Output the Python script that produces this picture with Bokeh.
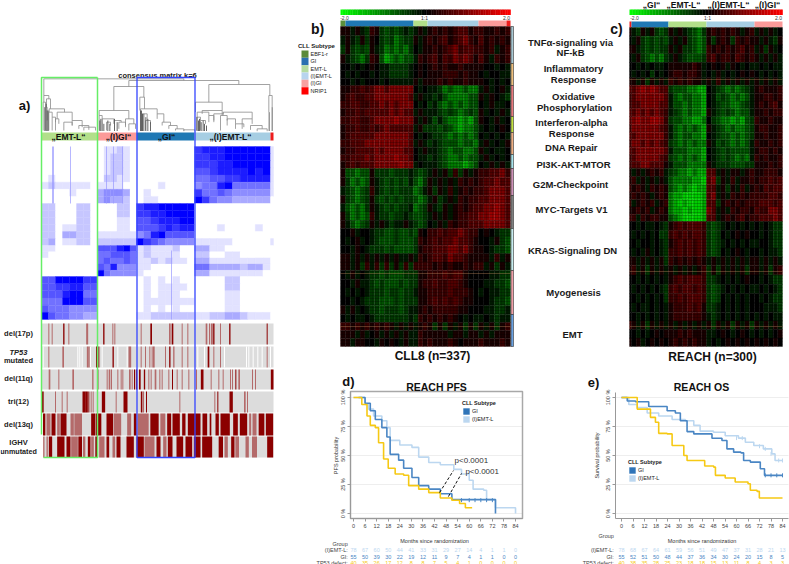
from bokeh.plotting import figure
from bokeh.layouts import row, column
from bokeh.models import (Range1d, FixedTicker, ColumnDataSource, Legend, LegendItem)
from bokeh.core.properties import value
from bokeh.transform import linear_cmap
from bokeh.embed import file_html
from bokeh.resources import INLINE
import math

FONT = value("Liberation Sans")
FN = "Liberation Sans"

# ---------- heatmap b (CLL8): estimated mean expression per gene-set row / sample group
# groups per row: EBF1-r(1) GI(14) EMT-L(3) (I)EMT-L(10) (I)GI+NRIP1(6)
b_sets = {
 "TNF": ["1 1a1ab21bcbcbab a1a 1212123312 211212",
         "a 1ab1b10bcbdcbb 1a1 2123123421 312121",
         "b 1bcbc1abdcdcdb 0a1 1212342332 212a12",
         "1 abcdb21cedcdcc a21 2313243431 31a212"],
 "INF": ["0 0a0a010aabbbba 010 1212112111 100a0a",
         "0 a0a00a0aabbbba 010 1112221211 0a00aa",
         "0 0a0a000a0aaaaa 1a1 1121211211 10a0a0"],
 "OX":  ["1 12232344344444 0a0 aabdcddcdd a1a01a",
         "1 23223344444443 a1a abacddddcc 1a10ab",
         "2 23322334343444 0a0 bacdcdcdcc 0a1aa0",
         "1 22323333343433 a1a aabcbcdcbc 1a0a1a"],
 "IFN": ["2 23322344445444 1a1 acacddedec 10a1a0",
         "1 22322323433333 a1b bbcbcdeddc a0a010"],
 "DNA": ["1 23333344444443 0a0 abbcdcdcdc 0a0a0a",
         "2 23334444444443 a1a babcccdccd a1a0a1",
         "1 22333343444433 0a1 aabcdccddc 1a0aa0"],
 "PI3K":["2 23334344445443 0aa babcddcdcc a1a0a0",
         "1 23233344444544 a0a aabcdddedc 0a1a1a"],
 "G2M": ["1 ccdcc1bbbcbbba bcb a1a1b2b1a1 223342",
         "1 bdcdc1abcbcbca cdb 1a1a1a2121 233433",
         "a bcdcb2abcbcbbb dca 1b1a2a1212 234443"],
 "MYC": ["1 bcdcb1bcbcbcbb cdc a1ba1a2122 334443",
         "a cdcdb1abcbcbba dcb 1ab1a12123 344543",
         "1 bdcdc2abbcbbab ccb a1a1a12233 445543",
         "1 acdcb1a1abaa1a bcb 0a1a212233 344443"],
 "KRAS":["0 01a00abbccbccb c10 2232334322 010abb",
         "0 a01a0abcccbccc b21 2323343321 00a1bc",
         "0 0a10abbbcbcccc b12 2333443421 10abbc",
         "1 1a1a1a1a1a1aa1 a21 2332433211 11a2a1",
         "1 1a1b2a2b2b1b2b 222 2121211212 2a1b1a"],
 "MYO": ["0 a1a0abbcbcccbb b11 2223233100 00aabb",
         "0 0a1aabcbcccbcb b12 2322332100 0aabbc",
         "0 a0a0abbbcbbcbb a11 2222322210 a0aabb",
         "0 0a0abbbcccbcbb b11 2323232110 00abbc",
         "1 a1a0abbcbbbcba a12 1222221100 0aabba"],
 "EMT": ["0 a0aa0abbbbbbba b21 2121210a0a a0abaa",
         "2 2121212121a1a1 a12 1b1b1a1b1b 1a1b12",
         "1 11a1a01a1a1a1a a21 1111a11a11 a1a111",
         "1 1a1100a1010a1a a21 2111210111 211121"],
}
# ---------- heatmap c (REACH): NRIP1(1) GI(8) EMT-L(8) (I)EMT-L(10) (I)GI(6)
c_sets = {
 "TNF": ["1 ab1a1bcb 1a1abcdb 1212121a12 a1a1a0",
         "0 a1bcbcbc a1a1bcdc 1b121b2121 1a1ab1",
         "1 1abcbcbb 1a1bbcdc 2121212312 a1b1a0",
         "0 a1bcdcdb a1abcccb 2312213212 1a1a1a"],
 "INF": ["0 0a0a0aa0 1111121a 0101a10a0a a0a0aa",
         "0 a0a0b0a0 1221221a 0a1a0a0101 0a0a0a",
         "1 1a1b1a1a 2121211a 1a2a1a1a1a 1a1a1a"],
 "OX":  ["3 34545433 bcccddee 0abcdcdcba 121112",
         "2 34444443 acdccdde 0acbcdcdca 112212",
         "2 33444433 accdcdde 0abccddcba 121231",
         "3 34343432 abcdcdde 1abcbcdcca 112122"],
 "IFN": ["3 45445542 bccddeed 0bcddedecb 211211",
         "2 44444432 acdcdcde 1abcdcddcb 122112"],
 "DNA": ["3 34444442 acdccdde 0abccdcdcb 112112",
         "2 44343432 bcdcdcdd 1acbcdcdca 211212",
         "3 34444443 acccddde 0abcbcccca 122121"],
 "PI3K":["2 34444432 bcdcdcde 0abcbcdcda 212112",
         "2 33443331 acccdddd 1abbbcccbb 111212"],
 "G2M": ["1 a1a1212a bcddedee 33a1a11a12 112221",
         "1 2a1a1a1a cddddeef 34b1a2a112 122323",
         "2 121a2121 cdedefee 33a1b1a2a1 213233"],
 "MYC": ["1 2121a121 deeffffe 34a1a21212 222332",
         "2 a1212a12 defefffe 33b1212122 233323",
         "1 1212a121 deefeffe 43a1a21221 322443",
         "2 2a212211 cdeffffe 33a1212312 233343"],
 "KRAS":["0 0a0aa0ab 12323332 bcba0a0a0a 0a0abb",
         "0 a0a0a0bb 23232332 bcb0a01010 0a0abb",
         "0 0a00a0ab 12323232 bcba0a0a0a a00abb",
         "0 a0a1a0ab 22323232 bcb0a010a0 0a0aab",
         "1 1a1a1a1b 21212121 a1a1a1a1a1 1a1a1a"],
 "MYO": ["1 2a1b1a1a 1a1a1a12 b1b1a1a1b1 1a1b12",
         "0 0a0a0a0a 12323332 bba0a0a010 0a0abb",
         "0 a0a0a0ab 23233232 bcba0a0a0a a0a0ab",
         "0 0a0a0a0b 22323332 bcb0a0a0a0 0a0abb",
         "0 a0aa0a0a 12223231 bba0a0a0a0 00aaab"],
 "EMT": ["0 0a0a0a0a 12222221 aba0a0a0a0 a0a0aa",
         "2 1a1b1a1a 1a1a1a1a 1b1a1b1a1b 1a1a1a",
         "0 0a0a0101 11212111 aa010a010a 0a0a01",
         "1 01a01010 12121211 a0a0101010 101010"],
}
levels = {"0":0,"1":.2,"2":.42,"3":.65,"4":.95,"5":1.2,"6":1.4,
          "a":-.2,"b":-.42,"c":-.65,"d":-.95,"e":-1.3,"f":-1.6}

# ---------- consensus matrix (0 = no co-clustering, 9 = always)
cons_rows = [
 "00000000 000000 00000000 0000000000 0",
 "00000000 011210 00000000 7888999999 1",
 "00000000 012210 00000000 7788999999 1",
 "00000000 012210 00000000 7778899999 1",
 "00000000 012210 00000000 6678888989 1",
 "01000000 022110 00000000 5566778888 1",
 "12111110 111100 00010000 4558955555 1",
 "00001000 344430 01000000 7556544444 1",
 "00000000 343320 01100000 9754433333 0",
 "22000220 000220 78899999 0000000000 0",
 "22000220 000220 77889999 0000000000 0",
 "22000220 000110 66788899 0000000000 0",
 "22011220 000110 66678788 0001000010 0",
 "22033220 111111 45896666 0000000000 0",
 "23011220 222222 97654444 1111100000 1",
 "11000000 666896 12111200 3311000000 0",
 "10000000 556665 12111100 2200110000 0",
 "00000000 565565 11212110 3311111111 0",
 "00000000 658444 11000000 5533332331 0",
 "00000000 954444 10000000 3311111110 0",
 "66999977 000000 01010100 0000220000 0",
 "66778866 000000 01011110 0000220000 0",
 "66689955 000000 01011100 0000110000 0",
 "55599966 000000 01111111 0000110000 0",
 "65554444 000000 01010100 0000110000 0",
 "96554433 000000 11222222 1122332111 0",
]
cons_stripe_x = [52,53,70,106,113,122,171]
cons_stripe_top = [146,146,146,146,146,146,250]
cons_stripe_bot = [203,203,203,203,203,203,319]

# ---------- sample tracks: (position, width, status) with status 2 = present, 1 = subclonal
del17p = [(145,3,1),(155,3,1),(190,4,2),(205,3,1),(260,6,1),(310,4,2),(337,3,1),(343,3,1),(422,3,1),(452,5,2),
          (508,5,1),(516,5,2),(545,3,1),(562,3,1),(618,5,1),(627,3,1),(634,6,1),(640,4,2),(660,3,1),(688,4,2),(800,3,2)]
tp53 = [(145,3,1),(188,5,1),(262,6,1),(268,3,1),(288,3,2),(295,3,2),(338,4,2),(388,8,1),(422,3,1),(435,3,1),(448,3,1),
        (455,3,1),(460,5,1),(495,3,1),(508,4,2),(520,4,1),(545,3,1),(562,3,1),(624,5,2),(640,3,1),(660,3,1),(800,3,1)]
tp53_missing = [128,232,238,245,270,305,352,380,592,612,672,738,745,758,772,785,810]
del11q = [(147,5,1),(175,3,1),(218,5,1),(277,4,1),(292,3,2),(320,3,1),(327,5,1),(333,3,1),(352,3,1),(362,3,1),(367,3,1),
          (388,5,1),(395,3,1),(402,3,2),(408,4,2),(418,5,2),(432,4,2),(445,3,1),(452,3,1),(465,5,1),(478,3,1),(485,3,1),
          (505,3,1),(516,3,2),(530,3,1),(545,3,1),(565,3,1),(588,3,1),(605,8,2),(632,3,1),(655,3,1),(668,3,1),(690,3,1),
          (696,3,1),(706,3,2),(716,5,1),(756,3,1),(765,3,1),(815,8,2)]
tri12 = [(127,5,2),(165,3,1),(185,3,1),(200,3,1),(250,8,2),(258,8,2),(265,3,2),(272,3,1),(278,3,1),(309,10,2),(347,3,1),
         (375,12,2),(423,4,2),(428,5,1),(438,3,2),(538,3,1),(643,3,1),(652,3,2),(692,10,2),(733,5,1),(741,3,1)]
del13q = [(131,7,2),(144,12,1),(159,12,2),(174,8,1),(189,18,2),(215,10,1),(233,23,1),(278,12,2),(294,17,2),(328,20,2),
          (351,22,1),(386,12,1),(404,8,2),(428,33,1),(462,25,2),(487,15,1),(506,12,2),(527,22,2),(550,10,2),(581,38,2),
          (613,14,2),(630,5,2),(650,10,2),(674,28,2),(705,14,2),(729,22,2),(749,6,1),(762,12,1),(783,17,2),(807,22,2)]
ighv = [(130,4,1),(140,4,1),(150,10,2),(181,22,2),(204,12,2),(222,20,1),(239,11,2),(251,7,1),(266,8,2),(276,8,1),(287,5,2),
        (304,16,1),(322,8,2),(340,8,1),(354,12,2),(389,22,2),(419,22,2),(447,30,1),(474,12,2),(493,10,1),(509,14,2),
        (538,20,2),(565,20,2),(590,20,2),(620,30,2),(661,13,2),(677,10,1),(697,10,2),(710,11,1),(740,10,1),(762,15,1),(809,18,2)]

# ---------- dendrogram merges: left leaf x, right leaf x, merge height, left/right child heights
merges = [
 (130,550,55,105,60),(385,715,60,78,72),(340,430,78,150,110),(625,808,72,125,105),(585,665,125,155,150),(805,815,105,155,140),
 (130,145,105,125,115),(128,135,125,210,140),(138,150,115,140,145),(135,140,140,210,180),(146,192,145,155,155),(145,155,155,210,170),
 (155,165,170,210,185),(170,215,155,175,180),(165,175,175,210,190),(190,215,185,210,195),(215,245,180,195,200),(235,265,195,205,208),
 (250,285,200,210,210),
 (296,385,150,165,175),(296,305,165,210,185),(305,340,175,185,180),(318,330,185,210,195),(340,362,180,190,185),(355,375,185,205,195),
 (375,400,175,200,190),(385,405,190,210,205),
 (418,432,110,150,145),(420,470,145,160,160),(425,440,160,210,180),(435,450,180,210,190),(470,490,160,175,185),(485,510,185,195,195),
 (505,530,195,205,205),(525,550,205,210,210),(550,583,208,212,212),
 (590,625,155,170,165),(588,600,170,210,180),(600,615,180,210,190),(605,665,150,160,165),(625,640,165,185,180),(640,668,160,185,155),
 (668,755,155,165,175),(660,680,165,210,180),(680,705,175,195,190),(705,730,190,205,200),(725,755,175,205,190),(750,785,195,208,205),
 (770,800,205,212,212),
]
dark_x = [133,137,140,143,298,301,305,310,322,328,342,350,420,423,426,430,436,442,450,590,594,597,602,608,612,618,806,815]
dark_top = [140,130,150,150,180,175,185,190,180,190,175,185,150,150,160,160,170,175,185,170,180,175,185,180,190,195,155,140]

# ---------- survival curves
pfs_months_l = [0,1.7,6,7.8,10.4,14.7,17.3,19,24,30.3,33.8,39,45,52,56,60,62,67.5,69,73.6,84,84]
pfs_l = [100,100,94,90,84,80,74,63,59,57,48.6,44,42,38,34,28.6,21,20,12,5,5,0]
pfs_months_g = [2.6,6,8.7,11.3,14.7,17.3,19,23.4,26,30.3,33.8,39,45,51,51,73.6,73.6]
pfs_g = [100,95,88.6,81,74,66,51,46,39,31,24,21,17,16,12,11.5,0]
pfs_months_y = [0,2.6,4.3,7,8.7,11.3,13,15.6,18,21.6,26,28.6,33.8,39,45,51,55,58,61.5]
pfs_y = [100,100,94,84,76,74,61,47,39,34,33,24,21,18,13.4,11.4,8.6,5,5]
pfs_censor = [56,60,63,66,69,72]
os_months_l = [0,3.8,8.2,13.4,19.4,26.4,33.3,37.7,41,48,54.1,61,64.6,69,74,78.4,80.1,84]
os_l = [100,94,91.4,86.6,84,81,80,76,71,70,67,65,61.4,58.6,55.7,51.4,45.7,45.7]
os_months_g = [0,3,7.3,14.2,22.9,23.8,28.1,30.7,34.2,37.7,44.6,47.2,52.4,55,58.5,62.3,63.7,67.2,72.4,74.6,84]
os_g = [100,97,96.3,92.3,92.3,88.6,86.6,80,70.6,68.6,68.6,64.9,62.9,55.7,52.9,52.3,45.7,44.3,38.6,32.9,32.9]
os_months_y = [0,6.9,8.2,12.5,15.1,17.7,19.4,23.8,26.4,31.2,32.5,34.2,42.9,43.4,48.1,49,54.1,59.3,66,67.2,70.7,71.9,84]
os_y = [100,100,90,90,82.9,78.6,69.1,68.6,58.6,58.6,50,45.7,45.7,40.9,40,32.9,30.6,27.1,25.7,20,19.1,13.4,13.4]
os_censor_l = [60,63,72,75,78,82,84]
os_censor_ly = [65,65,58,55.7,51.4,45.7,45.7]
os_censor_g = [75,78,81,84]

months = list(range(0,85,6))
pfs_risk_l = [78,67,60,50,44,41,33,31,29,27,14,4,1,1,0]
pfs_risk_g = [55,50,39,30,22,19,12,11,9,7,4,1,1,0,0]
pfs_risk_y = [40,35,26,17,12,8,8,7,5,4,1,0,0,0,0]
os_risk_l = [78,68,67,64,61,59,56,51,49,47,37,31,28,21,13]
os_risk_g = [55,52,51,50,48,44,37,36,34,30,24,20,15,8,5]
os_risk_y = [40,38,35,28,25,23,18,18,15,13,11,8,4,3,3]

subtypes = ["EBF1-r","GI","EMT-L","(I)EMT-L","(I)GI","NRIP1"]
terms = [("TNFα-signaling via",570,42),("NF-kB",570,52),("Inflammatory",573,68),("Response",573,79),("Oxidative",573,96),
         ("Phosphorylation",574,107),("Interferon-alpha",571,122),("Response",571,133),("DNA Repair",571,147),
         ("PI3K-AKT-MTOR",573,164),("G2M-Checkpoint",570,184),("MYC-Targets V1",571,209),("KRAS-Signaling DN",572,250),
         ("Myogenesis",573,292),("EMT",572,334)]

# ---------- colours / helpers
ST = {"EBF1-r":"#5c8f3c","GI":"#1f78b4","EMT-L":"#b2df8a","(I)EMT-L":"#a6cee3","(I)GI":"#fb9a99","NRIP1":"#ee1c1c"}
C_L, C_G, C_Y = "#bcd7f0", "#4a86c4", "#f6c914"
RG = []
for i in range(-50,51):
    v = abs(i)/50*255
    RG.append("#%02x%02x00" % (int(v) if i>0 else 0, int(v) if i<0 else 0))
BL = ["#%02x%02xff" % (int(255*(1-(i/9)**1.0)), int(255*(1-(i/9)**1.0))) for i in range(10)]

def blank(x0,x1,y0,y1):
    p = figure(width=x1-x0, height=y1-y0, x_range=Range1d(x0,x1), y_range=Range1d(y1,y0), x_axis_type=None, y_axis_type=None,
               toolbar_location=None, output_backend="svg", min_border=0, outline_line_color=None)
    p.grid.visible = False
    p.min_border_left=p.min_border_right=p.min_border_top=p.min_border_bottom=0
    return p

def txt(p, items, size, bold=True, color="#111111", align="center", style=None):
    p.text(x=[i[1] for i in items], y=[i[2] for i in items], text=[i[0] for i in items], text_font=FONT,
           text_font_size=size, text_font_style=style or ("bold" if bold else "normal"), text_align=align,
           text_baseline="middle", text_color=color)

def box(p,l,r,t,b,c,**k):
    return p.quad(left=[l],right=[r],top=[t],bottom=[b],fill_color=c,line_color=None,**k)

def heat(p, sets, col_edges, y_edges, streaks):
    L,R,T,B,V = [],[],[],[],[]
    for (name,rows) in sets.items():
        y0,y1 = y_edges[name]
        h = (y1-y0)/len(rows)
        for i,rw in enumerate(rows):
            s = rw.replace(" ","")
            assert len(s)==len(col_edges)-1, (name,i,len(s))
            for j,ch in enumerate(s):
                L.append(col_edges[j]);R.append(col_edges[j+1]);T.append(y0+i*h);B.append(y0+(i+1)*h);V.append(levels[ch])
    src = ColumnDataSource(dict(l=L,r=R,t=T,b=B,v=V))
    cm = linear_cmap("v", RG, -2, 2)
    p.quad(left="l",right="r",top="t",bottom="b",source=src,fill_color=cm,line_color=cm,line_width=0.3)
    x0,x1=col_edges[0],col_edges[-1]
    ys=[y0_ for y0_ in range(y_edges["TNF"][0]+2,346,3)]
    p.segment(x0=x0,x1=x1,y0=ys,y1=ys,line_color="#000000",line_alpha=0.22,line_width=1)
    xs=[x for x in range(int(x0)+2,int(x1),3)]
    p.segment(x0=xs,x1=xs,y0=y_edges["TNF"][0],y1=346,line_color="#000000",line_alpha=0.15,line_width=1)
    p.segment(x0=x0,x1=x1,y0=streaks,y1=streaks,line_color="#a87850",line_alpha=0.55,line_width=0.8)

def edges(groups):
    e=[]
    for a,b,n in groups:
        e += [a+(b-a)*k/n for k in range(n)]
    e.append(groups[-1][1])
    return e

def keybar(p,x0,x1,y0,y1):
    n=len(RG)
    w=(x1-x0)/n
    src=ColumnDataSource(dict(l=[x0+i*w for i in range(n)],r=[x0+(i+1)*w+.3 for i in range(n)],c=RG))
    p.quad(left="l",right="r",top=y0,bottom=y1,fill_color="c",line_color=None,source=src)

# ================= panel a
a = blank(0,292,0,564)
ce = edges([(41,97,8),(97,136,6),(136,194,8),(194,270,10),(270,273,1)])
re = edges([(142,146,1),(146,203,8),(203,245,6),(245,276,5),(276,319,6)])
L,R,T,B,V=[],[],[],[],[]
for i,rw in enumerate(cons_rows):
    s=rw.replace(" ","")
    assert len(s)==len(ce)-1,(i,len(s))
    for j,ch in enumerate(s):
        L.append(ce[j]);R.append(ce[j+1]);T.append(re[i]);B.append(re[i+1]);V.append(int(ch))
src=ColumnDataSource(dict(l=L,r=R,t=T,b=B,v=V))
cm=linear_cmap("v",BL,0,9)
a.quad(left="l",right="r",top="t",bottom="b",source=src,fill_color=cm,line_color=cm,line_width=0.3)
a.segment(x0=cons_stripe_x,x1=cons_stripe_x,y0=cons_stripe_top,y1=cons_stripe_bot,line_color="#9999ff",line_width=1,line_alpha=0.7)
for (x0,x1,k) in [(41,97,"EMT-L"),(97,136,"(I)GI"),(136,194,"GI"),(194,270,"(I)EMT-L"),(270,273,"NRIP1")]:
    box(a,x0,x1,132,140,ST[k])
txt(a,[("„EMT-L“",68,136.5),("„(I)GI“",118,136.5),("„GI“",166,136.5),("„(I)EMT-L“",230,136.5)],"8.5px")
# dendrogram
xs,ys=[],[]
for xl,xr,h,bl,br in merges:
    xs.append([xl/3,xl/3,xr/3,xr/3]); ys.append([60+bl/3,60+h/3,60+h/3,60+br/3])
a.multi_line(xs,ys,line_color="#8c8c8c",line_width=0.8)
a.segment(x0=[x/3 for x in dark_x],x1=[x/3 for x in dark_x],y0=[60+t/3 for t in dark_top],y1=130.5,line_color="#555555",line_width=0.9)
txt(a,[("consensus matrix k=6",157,75)],"7.5px",color="#222222")
txt(a,[("a)",24,105)],"13px")
# tracks
track_rows=[(del17p,323,344,41),(tp53,346,367,41),(del11q,369,389,41),(tri12,391,412,41),(del13q,413,435,43),(ighv,436,457,43)]
for tr,y0,y1,x0 in track_rows:
    box(a,x0,273,y0,y1,"#dcdcdc")
    a.quad(left=[t[0]/3-t[1]/6 for t in tr],right=[t[0]/3+t[1]/6 for t in tr],top=y0,bottom=y1,
           fill_color=["#8b0000" if t[2]==2 else "#b46a6a" for t in tr],line_color=None)
a.segment(x0=[x/3 for x in tp53_missing],x1=[x/3 for x in tp53_missing],y0=346,y1=367,line_color="#ffffff",line_width=1)
txt(a,[("del(17p)",18,333),("mutated",18,360),("del(11q)",18,378),("tri(12)",18,401),("del(13q)",18,424),("IGHV",18,442)],"7.5px",color="#222222")
txt(a,[("unmutated",18,451)],"7.2px",color="#222222")
txt(a,[("TP53",18,352)],"7.5px",style="bold italic",color="#222222")
# cluster frames
a.line([97,41,41],[77,77,434],line_color="#66ee66",line_width=1.5)
a.line([43,97,97],[457,457,77],line_color="#66ee66",line_width=1.5)
a.quad(left=[136.5],right=[194.5],top=[77],bottom=[457],fill_color=None,line_color="#3344ff",line_width=1.3)

# ================= panel b
b = blank(292,525,0,365)
keybar(b,340,510,9,14.5)
txt(b,[("-2.0",344,17),("1:1",424,17),("2.0",506,17)],"5px",bold=False,color="#333333")
for x0,x1,k in [(340,345,"EBF1-r"),(345,413,"GI"),(413,427,"EMT-L"),(427,478,"(I)EMT-L"),(478,506,"(I)GI"),(506,510,"NRIP1")]:
    box(b,x0,x1,20,26,ST[k])
b_y = dict(TNF=(26,63),INF=(63,85),OX=(85,116),IFN=(116,132),DNA=(132,154),PI3K=(154,168),G2M=(168,195),MYC=(195,228),
           KRAS=(228,270),MYO=(270,314),EMT=(314,346))
heat(b,b_sets,edges([(340,345,1),(345,413,14),(413,427,3),(427,478,10),(478,510,6)]),b_y,[273,326])
side = dict(TNF="#a9c9d4",INF="#eec07e",OX="#e87a7e",IFN="#c4e243",DNA="#efb084",PI3K="#a8e4ec",G2M="#cf92b8",MYC="#808080",
            KRAS="#c8eef0",MYO="#f0a0a8",EMT="#6ba2e2")
for k,(y0,y1) in b_y.items():
    b.quad(left=[510.5],right=[513],top=[y0],bottom=[y1],fill_color=side[k],line_color="#333333",line_width=0.6)
txt(b,[("b)",317,28)],"14px")
txt(b,[("CLL Subtype",316,45)],"6px",color="#222222")
for i,k in enumerate(subtypes):
    box(b,301,308,50+i*7.33,50+(i+1)*7.33,{"EBF1-r":"#5a8a3a","GI":"#2a70b0","EMT-L":"#b5dba0","(I)EMT-L":"#b8d4ee","(I)GI":"#f8a0a0","NRIP1":"#ff0000"}[k])
txt(b,[(k,310,53.5+i*7.33) for i,k in enumerate(subtypes)],"5.5px",bold=False,align="left",color="#222222")
txt(b,[("CLL8 (n=337)",432,355)],"12px")

# ================= term labels
t = blank(525,625,0,365)
txt(t,terms,"9.5px",color="#1a1a1a")
txt(t,[("c)",616,28)],"14px")

# ================= panel c
c = blank(625,789,0,365)
keybar(c,629,782,9,14.5)
txt(c,[("-2.0",634,17),("1:1",707,17),("2.0",778,17)],"5px",bold=False,color="#333333")
for x0,x1,k in [(629,631,"NRIP1"),(631,668,"GI"),(668,706,"EMT-L"),(706,754,"(I)EMT-L"),(754,782,"(I)GI")]:
    box(c,x0,x1,21,27,ST[k])
c_y = dict(TNF=(27,62),INF=(62,85),OX=(85,116),IFN=(116,132),DNA=(132,154),PI3K=(154,168),G2M=(168,192),MYC=(192,221),
           KRAS=(221,265),MYO=(265,312),EMT=(312,346))
heat(c,c_sets,edges([(629,631,1),(631,668,8),(668,706,8),(706,754,10),(754,782,6)]),c_y,[79,271,326])
txt(c,[("„GI“",651,4.5),("„EMT-L“",683,4.5),("„(I)EMT-L“",728,4.5),("„(I)GI“",767,4.5)],"8.5px")
txt(c,[("REACH (n=300)",712,356)],"12px")

# ================= survival panels: one figure each, in months and percent, with axes at fixed locations
TOP, BOT, ZERO_PX, PX_PCT = 365, 564, 513, 1.16
def ypc(y): return (ZERO_PX-y)/PX_PCT

def km(x0,x1,px0,pxm,frame_l,frame_r,frame_t,ylab,ylab_px,outlined):
    def xm(x): return (x-px0)/pxm
    p = figure(width=x1-x0,height=BOT-TOP,x_range=Range1d(xm(x0),xm(x1)),y_range=Range1d(ypc(BOT),ypc(TOP)),
               toolbar_location=None,output_backend="svg",x_axis_type=None,y_axis_type=None,min_border=0,outline_line_color=None)
    p.min_border_left=p.min_border_right=p.min_border_top=p.min_border_bottom=0
    p.grid.visible=False
    from bokeh.models import LinearAxis
    fl,fr,ft,fb=xm(frame_l),xm(frame_r),ypc(frame_t),ypc(518)
    xa=LinearAxis(fixed_location=fb,bounds=(fl,fr),ticker=FixedTicker(ticks=months))
    ya=LinearAxis(fixed_location=fl,bounds=(fb,ft),ticker=FixedTicker(ticks=[0,25,50,75,100]),
                  major_label_overrides={0:"0 %",25:"25 %",50:"50 %",75:"75 %",100:"100 %"},major_label_orientation="vertical")
    p.add_layout(xa,"below"); p.add_layout(ya,"left")
    for ax in (xa,ya):
        ax.major_label_text_font_size="5.5px"; ax.major_label_text_font=FN; ax.major_label_text_color="#444444"
        ax.axis_line_color="#999999"; ax.major_tick_line_color="#999999"; ax.minor_tick_line_color=None
        ax.major_tick_out=3; ax.major_tick_in=0; ax.major_label_standoff=2
    p.segment(x0=fl,x1=fr,y0=[0,25,50,75,100],y1=[0,25,50,75,100],line_color="#eeeeee",line_width=1)
    if outlined:
        p.quad(left=[fl],right=[fr],top=[ft],bottom=[fb],fill_color=None,line_color="#a8a8a8",line_width=1.5)
    p.text([xm(ylab_px)],[50],text=[ylab],text_font=FONT,text_font_size="5.5px",text_align="center",text_baseline="middle",
           text_color="#333333",angle=math.pi/2)
    p.text([42],[ypc(540)],text=["Months since randomization"],text_font=FONT,text_font_size="5.5px",text_align="center",
           text_baseline="middle",text_color="#333333")
    return p,xm

def risk(p,rows,label_month,group_y):
    for name,vals,col,y in rows:
        p.text(x=months,y=[ypc(y)]*len(months),text=[str(v) for v in vals],text_font=FONT,text_font_size="5.5px",text_align="center",
               text_baseline="middle",text_color=col)
    p.text(x=[label_month]*3,y=[ypc(r[3]) for r in rows],text=[r[0] for r in rows],text_font=FONT,text_font_size="5.5px",
           text_align="right",text_baseline="middle",text_color="#444444")
    p.text(x=[label_month],y=[ypc(group_y)],text=["Group"],text_font=FONT,text_font_size="5.5px",text_align="right",
           text_baseline="middle",text_color="#444444")

def title(p,xm,s,x,y,size):
    p.text([xm(x)],[ypc(y)],text=[s],text_font=FONT,text_font_size=size,text_font_style="bold",text_align="center",
           text_baseline="middle",text_color="#111111")

def sublegend(p,x,y):
    nan=float("nan")
    r1=p.quad(left=[nan],right=[nan],top=[nan],bottom=[nan],fill_color="#2f74b8",line_color=None)
    r2=p.quad(left=[nan],right=[nan],top=[nan],bottom=[nan],fill_color=C_L,line_color=None)
    lg=Legend(items=[LegendItem(label="GI",renderers=[r1]),LegendItem(label="(I)EMT-L",renderers=[r2])],location=(x,y),title="CLL Subtype",
              padding=0,margin=0,border_line_color=None,background_fill_alpha=0,glyph_width=8,glyph_height=8,label_height=8,
              label_standoff=2,spacing=0,title_standoff=1,label_text_font=FN,label_text_font_size="5.5px",label_text_color="#222222",
              title_text_font=FN,title_text_font_size="5.5px",title_text_font_style="bold",title_text_color="#222222")
    p.add_layout(lg)

# d
d,dm = km(292,575,353,1.929,350,522,391,"PFS probability",335,True)
d.step(pfs_months_l,pfs_l,mode="after",line_color=C_L,line_width=1.6)
d.step(pfs_months_g,pfs_g,mode="after",line_color=C_G,line_width=1.6)
d.step(pfs_months_y,pfs_y,mode="after",line_color=C_Y,line_width=1.6)
d.scatter(pfs_censor,[11.5]*len(pfs_censor),marker="dash",angle=math.pi/2,size=4,line_color=C_G,fill_color=None)
d.line([44.6,51.8],[18,37],line_color="#111111",line_width=1,line_dash="3 2")
d.line([49.2,56],[14.6,34.5],line_color="#111111",line_width=1,line_dash="3 2")
d.text([52.4],[45.7],text=["p<0.0001"],text_font=FONT,text_font_size="8px",text_baseline="middle",text_color="#333333")
d.text([58],[36],text=["p<0.0001"],text_font=FONT,text_font_size="8px",text_baseline="middle",text_color="#333333")
sublegend(d,170,141)
title(d,dm,"REACH PFS",436,386,"10.5px")
title(d,dm,"d)",348,381,"13px")
risk(d,[("(I)EMT-L:",pfs_risk_l,C_L,549),("GI:",pfs_risk_g,C_G,556),("TP53 defect:",pfs_risk_y,C_Y,562)],-3,543)

# e
e,em = km(575,789,621,1.917,615,788,392,"Survival probability",596,False)
e.step(os_months_l,os_l,mode="after",line_color=C_L,line_width=1.6)
e.step(os_months_g,os_g,mode="after",line_color=C_G,line_width=1.6)
e.step(os_months_y,os_y,mode="after",line_color=C_Y,line_width=1.6)
e.scatter(os_censor_l,os_censor_ly,marker="dash",angle=math.pi/2,size=4,line_color=C_L,fill_color=None)
e.scatter(os_censor_g,[32.9]*len(os_censor_g),marker="dash",angle=math.pi/2,size=4,line_color=C_G,fill_color=None)
sublegend(e,53,82)
title(e,em,"REACH OS",701,386,"10.5px")
title(e,em,"e)",593,382,"13px")
risk(e,[("(I)EMT-L:",os_risk_l,C_L,549),("GI:",os_risk_g,C_G,556),("TP53 defect:",os_risk_y,C_Y,562)],-4,535)

page = row(a, column(row(b,t,c,spacing=0), row(d,e,spacing=0),spacing=0),spacing=0)
open("out.html","w").write(file_html(page, INLINE))
